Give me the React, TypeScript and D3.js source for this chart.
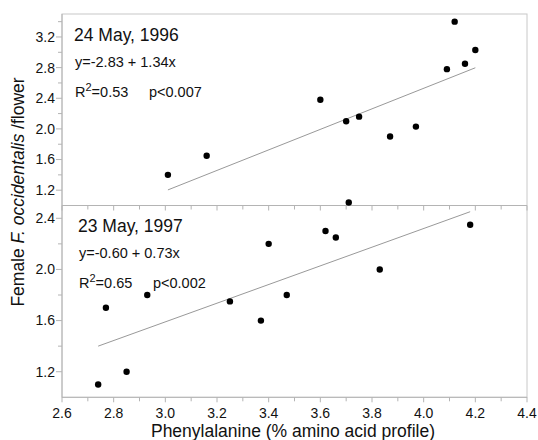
import React from 'react';
import * as d3 from 'd3';

// 24 May 1996 panel
const x1996 = [3.01, 3.16, 3.6, 3.7, 3.75, 3.87, 3.97, 4.09, 4.12, 4.16, 4.2, 3.71];
const y1996 = [1.4, 1.65, 2.38, 2.1, 2.16, 1.9, 2.03, 2.78, 3.4, 2.85, 3.03, 1.04];

// 23 May 1997 panel
const x1997 = [2.74, 2.77, 2.85, 2.93, 3.25, 3.37, 3.4, 3.47, 3.62, 3.66, 3.83, 4.18];
const y1997 = [1.1, 1.7, 1.2, 1.8, 1.75, 1.6, 2.2, 1.8, 2.3, 2.25, 2.0, 2.35];

// regression coefficients [intercept, slope]
const fit1996 = [-2.83, 1.34];
const fit1997 = [-0.6, 0.73];

const xMajorTicks = [2.6, 2.8, 3.0, 3.2, 3.4, 3.6, 3.8, 4.0, 4.2, 4.4];
const xMinorTicks = [2.7, 2.9, 3.1, 3.3, 3.5, 3.7, 3.9, 4.1, 4.3];
const topMajorTicks = [1.2, 1.6, 2.0, 2.4, 2.8, 3.2];
const topMinorTicks = [1.4, 1.8, 2.2, 2.6, 3.0, 3.4];
const botMajorTicks = [1.2, 1.6, 2.0, 2.4];
const botMinorTicks = [1.4, 1.8, 2.2];

const font = '"Liberation Sans", Arial, sans-serif';
const axisColor = '#b4b4b4';

const left = 62;
const right = 527;
const top = 14;
const mid = 205.5;
const bottom = 397.3;

const xScale = d3.scaleLinear().domain([2.6, 4.4]).range([left, right]);
const yTop = d3.scaleLinear().domain([1.0, 3.5]).range([mid, top]);
const yBot = d3.scaleLinear().domain([1.0, 2.5]).range([bottom, mid]);

type PanelProps = {
  xs: number[];
  ys: number[];
  fit: number[];
  y: d3.ScaleLinear<number, number>;
  major: number[];
  minor: number[];
  title: string;
  eq: string;
  r2: string;
  p: string;
  tx: number;
  ty: number;
};

const Panel = ({ xs, ys, fit, y, major, minor, title, eq, r2, p, tx, ty }: PanelProps) => {
  const x0 = d3.min(xs) as number;
  const x1 = d3.max(xs) as number;
  const line = d3
    .line<number>()
    .x(d => xScale(d))
    .y(d => y(fit[0] + fit[1] * d));
  return (
    <g>
      {major.map(v => (
        <g key={'M' + v}>
          <line x1={left - 6} x2={left} y1={y(v)} y2={y(v)} stroke={axisColor} />
          <text x={left - 7} y={y(v)} dy="0.35em" textAnchor="end" fontSize={14} fill="#111">
            {v.toFixed(1)}
          </text>
        </g>
      ))}
      {minor.map(v => (
        <line key={'m' + v} x1={left - 4} x2={left} y1={y(v)} y2={y(v)} stroke={axisColor} />
      ))}
      <path d={line([x0, x1]) || ''} stroke="#999" strokeWidth={1} fill="none" />
      {xs.map((v, i) => (
        <circle key={i} cx={xScale(v)} cy={y(ys[i])} r={3.2} fill="#000" />
      ))}
      <text x={tx} y={ty} fontSize={17.5} fill="#111">{title}</text>
      <text x={tx + 1} y={ty + 26} fontSize={14.5} fill="#111">{eq}</text>
      <text x={tx + 1} y={ty + 56} fontSize={14.5} fill="#111">
        R<tspan dy={-6} fontSize={11}>2</tspan><tspan dy={6}>{'=' + r2}</tspan>
      </text>
      <text x={tx + 75} y={ty + 56} fontSize={14.5} fill="#111">{p}</text>
    </g>
  );
};

const App = () => {
  return (
    <svg
      width={538}
      height={440}
      style={{ position: 'absolute', left: 0, top: 0, background: '#fff' }}
      fontFamily={font}
    >
      <rect x={left} y={top} width={right - left} height={bottom - top} fill="none" stroke="#c8c8c8" />
      <line x1={left} x2={right} y1={mid} y2={mid} stroke={axisColor} />
      <line x1={left} x2={left} y1={top} y2={bottom} stroke={axisColor} />
      <line x1={left} x2={right} y1={bottom} y2={bottom} stroke={axisColor} />

      {/* x ticks on the divider and on the bottom axis */}
      {[mid, bottom].map(base => (
        <g key={base}>
          {xMajorTicks.map(v => (
            <line key={'M' + v} x1={xScale(v)} x2={xScale(v)} y1={base} y2={base + 5} stroke={axisColor} />
          ))}
          {xMinorTicks.map(v => (
            <line key={'m' + v} x1={xScale(v)} x2={xScale(v)} y1={base} y2={base + 4} stroke={axisColor} />
          ))}
        </g>
      ))}
      {xMajorTicks.map(v => (
        <text key={v} x={xScale(v)} y={418} textAnchor="middle" fontSize={14} fill="#111">
          {v.toFixed(1)}
        </text>
      ))}

      <Panel
        xs={x1996}
        ys={y1996}
        fit={fit1996}
        y={yTop}
        major={topMajorTicks}
        minor={topMinorTicks}
        title="24 May, 1996"
        eq="y=-2.83 + 1.34x"
        r2="0.53"
        p="p<0.007"
        tx={74}
        ty={41}
      />
      <Panel
        xs={x1997}
        ys={y1997}
        fit={fit1997}
        y={yBot}
        major={botMajorTicks}
        minor={botMinorTicks}
        title="23 May, 1997"
        eq="y=-0.60 + 0.73x"
        r2="0.65"
        p="p<0.002"
        tx={78}
        ty={232}
      />

      <text x={293} y={437} textAnchor="middle" fontSize={17.5} fill="#111">
        Phenylalanine (% amino acid profile)
      </text>
      <text
        transform={`translate(24, ${192}) rotate(-90)`}
        textAnchor="middle"
        fontSize={17.5}
        fill="#111"
      >
        Female <tspan fontStyle="italic">F. occidentalis</tspan> /flower
      </text>
    </svg>
  );
};

export default App;
